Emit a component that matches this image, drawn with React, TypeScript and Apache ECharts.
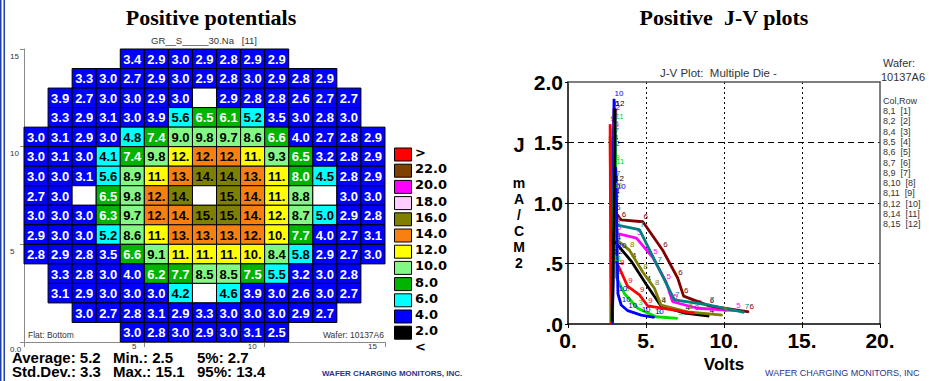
import React, { useEffect, useRef } from 'react';
import * as echarts from 'echarts';

// ---------- Wafer map data (rows listed top -> bottom; null = no die, -1 = untested die) ----------
const N = null;
const U = -1;
const rowY14 = [N, N, N, N, 3.4, 2.9, 3.0, 2.9, 2.8, 2.9, 2.9, N, N, N, N];
const rowY13 = [N, N, 3.3, 3.0, 2.7, 2.9, 3.0, 2.9, 2.8, 3.0, 2.9, 2.8, 2.9, N, N];
const rowY12 = [N, 3.9, 2.7, 3.0, 3.0, 2.9, 3.0, U, 2.9, 2.8, 2.8, 2.6, 2.7, 2.7, N];
const rowY11 = [N, 3.3, 2.9, 3.1, 3.0, 3.9, 5.6, 6.5, 6.1, 5.2, 3.5, 3.0, 2.8, 3.0, N];
const rowY10 = [3.0, 3.1, 2.9, 3.0, 4.8, 7.4, 9.0, 9.8, 9.7, 8.6, 6.6, 4.0, 2.7, 2.8, 2.9];
const rowY9 = [3.0, 3.1, 3.0, 4.1, 7.4, 9.8, 11.6, 12.2, 12.1, 11.2, 9.3, 6.5, 3.2, 2.8, 2.9];
const rowY8 = [3.0, 3.0, 3.1, 5.6, 8.9, 11.3, 13.2, 14.1, 14.2, 13.1, 11.2, 8.0, 4.5, 2.8, 2.9];
const rowY7 = [2.7, 3.0, U, 6.5, 9.8, 12.3, 14.2, U, 15.1, 13.8, 11.3, 8.8, U, 3.0, 3.0];
const rowY6 = [3.0, 3.0, 3.0, 6.3, 9.7, 12.2, 13.7, 15.0, 14.8, 13.6, 11.7, 8.7, 5.0, 2.9, 2.8];
const rowY5 = [2.9, 3.0, 3.0, 5.2, 8.6, 11.2, 13.1, 13.0, 12.9, 12.3, 10.3, 7.7, 4.0, 2.7, 3.1];
const rowY4 = [2.8, 2.9, 2.8, 3.5, 6.6, 9.1, 11.2, 11.0, 10.8, 10.3, 8.4, 5.8, 2.9, 2.7, 3.0];
const rowY3 = [N, 3.3, 2.8, 3.0, 4.0, 6.2, 7.7, 8.5, 8.5, 7.5, 5.5, 3.2, 3.0, 2.8, N];
const rowY2 = [N, 3.1, 2.9, 3.0, 3.0, 3.0, 4.2, U, 4.6, 3.9, 3.0, 2.6, 3.0, 2.7, N];
const rowY1 = [N, N, 3.0, 2.7, 2.8, 3.1, 2.9, 3.3, 3.0, 3.0, 3.0, 2.9, 2.7, N, N];
const rowY0 = [N, N, N, N, 3.0, 2.8, 3.0, 2.9, 3.0, 3.1, 2.5, N, N, N, N];
const waferRows = [rowY14, rowY13, rowY12, rowY11, rowY10, rowY9, rowY8, rowY7, rowY6, rowY5, rowY4, rowY3, rowY2, rowY1, rowY0];

// colour bins (low -> high), upper bounds and legend labels
const binUpper = [2, 4, 6, 8, 10, 12, 14, 16, 18, 20, 22, Infinity];
const binColors = ['#000000', '#0000ff', '#00ffff', '#00b400', '#84f884', '#ffff00', '#f88010', '#808000', '#ffccff', '#ff00ff', '#804000', '#ff0000'];
const binLabels = ['2.0', '4.0', '6.0', '8.0', '10.0', '12.0', '14.0', '16.0', '18.0', '20.0', '22.0', '>'];
const binWhiteText = [true, true, false, true, false, false, false, false, false, false, true, false];
const belowLabel = '<';

const statNames = ['Average:', 'Min.:', '5%:', 'Std.Dev.:', 'Max.:', '95%:'];
const statValues = ['5.2', '2.5', '2.7', '3.3', '15.1', '13.4'];

// ---------- J-V curves ([volts, J]) ----------
const curve1 = [[2.78, 0.03], [2.82, 0.4], [2.88, 0.95], [2.92, 1.35], [2.95, 1.7]];
const curve2 = [[2.85, 0.02], [2.9, 0.45], [2.95, 1.0], [3.0, 1.45], [3.02, 1.74]];
const curve3 = [[2.85, 0.0], [2.92, 1.61], [3.0, 1.33], [3.05, 0.8], [3.09, 0.39], [3.62, 0.25], [4.47, 0.13], [5.64, 0.06], [7.03, 0.047]];
const curve4 = [[2.8, 0.0], [2.9, 1.5], [3.0, 1.05], [3.07, 0.67], [4.05, 0.52], [5.0, 0.33], [5.96, 0.149], [7.5, 0.09], [9.05, 0.066]];
const curve5 = [[2.85, 0.0], [2.95, 1.6], [3.05, 1.1], [3.09, 0.75], [4.39, 0.71], [5.43, 0.55], [6.28, 0.35], [6.71, 0.184], [8.3, 0.13], [10.75, 0.11]];
const curve6 = [[2.85, 0.0], [2.95, 1.78], [3.05, 0.92], [3.41, 0.86], [4.8, 0.845], [6.07, 0.61], [7.03, 0.38], [7.41, 0.23], [9.05, 0.15], [11.6, 0.1]];
const curve7 = [[2.85, 0.0], [2.95, 1.55], [3.05, 1.2], [3.09, 0.82], [4.58, 0.78], [5.7, 0.49], [6.82, 0.2], [9.05, 0.157], [11.3, 0.097]];
const curve8 = [[2.8, 0.0], [2.7, 1.55], [2.85, 1.2], [2.98, 0.71], [3.94, 0.61], [4.79, 0.43], [5.54, 0.295], [5.96, 0.157], [7.67, 0.1], [9.9, 0.074]];
const curve9 = [[2.75, 0.0], [2.7, 1.65], [2.8, 1.1], [2.88, 0.57], [3.3, 0.46], [3.83, 0.31], [4.58, 0.24], [5.11, 0.149], [8.1, 0.088]];
const curve10 = [[2.85, 0.0], [2.95, 1.86], [3.1, 1.09], [3.15, 0.6], [3.2, 0.25], [3.41, 0.157], [3.83, 0.11], [4.69, 0.074], [5.54, 0.055]];
const curve11 = [[2.8, 0.02], [2.88, 0.5], [2.95, 1.1], [3.0, 1.67], [3.05, 1.3]];
const curve12 = [[2.82, 0.02], [2.9, 0.55], [2.98, 1.16], [3.02, 1.78]];
const jvCurves = [curve1, curve2, curve3, curve4, curve5, curve6, curve7, curve8, curve9, curve10, curve11, curve12];
const jvPalette = ['#ff0000', '#0000ff', '#00e000', '#000000', '#ff00ff', '#800000', '#008080', '#808000'];
const dieCols = [8, 8, 8, 8, 8, 8, 8, 8, 8, 8, 8, 8];
const dieRows = [1, 2, 4, 5, 6, 7, 9, 10, 11, 12, 14, 15];
const jvXTicks = [0, 5, 10, 15, 20];

const ARIAL = 'Arial, "Liberation Sans", sans-serif';
const SERIF = '"Liberation Serif", "Times New Roman", serif';

function binIndex(v: number) {
  for (let i = 0; i < binUpper.length; i++) if (v <= binUpper[i]) return i;
  return binUpper.length - 1;
}
function fmtCell(v: number) {
  return v >= 9.95 ? Math.round(v) + '.' : v.toFixed(1);
}

function txt(x: number, y: number, text: string, font: string, fill: string, align = 'left', vAlign = 'middle') {
  return {
    type: 'text', x, y, silent: true,
    style: { text, font, fill, align, textAlign: align, verticalAlign: vAlign, textVerticalAlign: vAlign },
  };
}

function buildOption() {
  const cells: any[] = [];
  waferRows.forEach((row, ri) => {
    const y = waferRows.length - 1 - ri;
    row.forEach((v, c) => {
      if (v !== null) cells.push([c, y, v]);
    });
  });

  const graphics: any[] = [];
  graphics.push({ type: 'rect', shape: { x: 0, y: 0, width: 1.5, height: 381 }, style: { fill: '#2040b0' }, silent: true });
  graphics.push({ type: 'rect', shape: { x: 3.5, y: 0, width: 1.5, height: 381 }, style: { fill: '#2040b0' }, silent: true });
  graphics.push(txt(211, 17, 'Positive potentials', `bold 22px ${SERIF}`, '#000', 'center'));
  graphics.push(txt(724, 17, 'Positive  J-V plots', `bold 22px ${SERIF}`, '#000', 'center'));
  graphics.push(txt(204, 40, 'GR__S_____30.Na   [11]', `9.5px ${ARIAL}`, '#333', 'center'));
  graphics.push(txt(28, 335, 'Flat: Bottom', `8.5px ${ARIAL}`, '#333', 'left'));
  graphics.push(txt(384, 335, 'Wafer: 10137A6', `8.5px ${ARIAL}`, '#333', 'right'));
  const nb = binColors.length;
  for (let k = 0; k < nb; k++) {
    const i = nb - 1 - k;
    const y0 = 148 + k * 16.2;
    graphics.push({ type: 'rect', shape: { x: 394.5, y: y0, width: 17, height: 13 }, style: { fill: binColors[i], stroke: '#000', lineWidth: 1 }, silent: true });
    graphics.push(txt(415, y0 + 4.5, binLabels[i], `bold 13px "DejaVu Sans", Verdana, sans-serif`, '#000', 'left'));
  }
  graphics.push(txt(415, 148 + nb * 16.2 + 4.5, belowLabel, `bold 13px "DejaVu Sans", Verdana, sans-serif`, '#000', 'left'));
  const sx = [12, 113, 197];
  statNames.forEach((name, i) => {
    const col = i % 3;
    const row = Math.floor(i / 3);
    graphics.push(txt(sx[col], 357 + row * 14, `${name} ${statValues[i]}`, `bold 15px ${ARIAL}`, '#000', 'left'));
  });
  graphics.push(txt(322, 373, 'WAFER CHARGING MONITORS, INC.', `bold 8px ${ARIAL}`, '#2a3490', 'left'));
  graphics.push(txt(765, 373, 'WAFER CHARGING MONITORS, INC', `9px ${ARIAL}`, '#2a3490', 'left'));
  graphics.push(txt(660, 73, 'J-V Plot:  Multiple Die -', `11.5px ${ARIAL}`, '#333', 'left'));
  graphics.push(txt(883, 63, 'Wafer:', `11px ${ARIAL}`, '#333', 'left'));
  graphics.push(txt(881, 77, '10137A6', `11px ${ARIAL}`, '#333', 'left'));
  graphics.push(txt(883, 101, 'Col,Row', `9px ${ARIAL}`, '#333', 'left'));
  dieRows.forEach((r, i) => {
    graphics.push(txt(883, 111 + i * 10.3, `${dieCols[i]},${r}  [${i + 1}]`, `9px ${ARIAL}`, '#333', 'left'));
  });
  graphics.push(txt(519, 145, 'J', `bold 20px ${ARIAL}`, '#000', 'center'));
  graphics.push({
    type: 'text', x: 519, y: 223, silent: true,
    style: { text: 'm\nA\n/\nC\nM\n2', font: `bold 14px ${ARIAL}`, lineHeight: 16, fill: '#000', align: 'center', textAlign: 'center', verticalAlign: 'middle', textVerticalAlign: 'middle' },
  });

  const lineSeries = jvCurves.map((curve, i) => {
    const color = jvPalette[i % jvPalette.length];
    return {
      type: 'line', name: `[${i + 1}]`, xAxisIndex: 1, yAxisIndex: 1,
      data: curve.map((pt) => ({ value: pt, label: { show: pt[1] >= 0.035 } })),
      symbol: 'circle', symbolSize: 1, showSymbol: true,
      lineStyle: { color, width: 2.8 }, itemStyle: { color },
      label: { show: true, formatter: String(i + 1), position: [1, -9], fontSize: 8, fontFamily: ARIAL, color },
      z: 3 + i,
    };
  });

  return {
    animation: false,
    backgroundColor: '#ffffff',
    textStyle: { fontFamily: ARIAL },
    grid: [
      { left: 24, top: 49, width: 361, height: 293 },
      { left: 568, top: 82, width: 312, height: 242 },
    ],
    xAxis: [
      {
        gridIndex: 0, type: 'value', min: 0, max: 15, interval: 5,
        axisLine: { show: true, onZero: false, lineStyle: { color: '#8a8a8a' } },
        axisTick: { show: true, length: 5, lineStyle: { color: '#8a8a8a' } },
        splitLine: { show: false },
        axisLabel: { fontSize: 8, color: '#333', margin: 0, align: 'right', padding: [0, 8, 0, 0], formatter: (v: number) => (v === 0 ? '' : String(v)) },
      },
      {
        gridIndex: 1, type: 'value', min: 0, max: 20, interval: 5,
        axisLine: { show: true, onZero: false, lineStyle: { color: '#000', width: 1.5 } },
        axisTick: { show: true, length: 4, lineStyle: { color: '#000' } },
        splitLine: { show: true, showMinLine: false, showMaxLine: false, lineStyle: { color: '#000', type: [2, 3], width: 1 } },
        axisLabel: { fontSize: 21, fontWeight: 'bold', color: '#000', margin: 6, formatter: (v: number) => (jvXTicks.includes(v) ? v + '.' : '') },
        name: 'Volts', nameLocation: 'middle', nameGap: 27,
        nameTextStyle: { fontSize: 17, fontWeight: 'bold', color: '#000' },
      },
      {
        gridIndex: 1, type: 'value', position: 'top', min: 0, max: 20, interval: 5,
        axisLine: { show: true, onZero: false, lineStyle: { color: '#555', width: 1.5 } },
        axisTick: { show: false }, axisLabel: { show: false }, splitLine: { show: false },
      },
    ],
    yAxis: [
      {
        gridIndex: 0, type: 'value', min: 0, max: 15, interval: 5,
        axisLine: { show: true, onZero: false, lineStyle: { color: '#8a8a8a' } },
        axisTick: { show: true, length: 4, lineStyle: { color: '#8a8a8a' } },
        splitLine: { show: false },
        axisLabel: { fontSize: 8, color: '#333', align: 'left', verticalAlign: 'top', margin: 14, padding: [3, 0, 0, 0], formatter: (v: number) => (v === 0 ? '0.0' : String(v)) },
      },
      {
        gridIndex: 1, type: 'value', min: 0, max: 2, interval: 0.5,
        axisLine: { show: true, onZero: false, lineStyle: { color: '#000', width: 1.5 } },
        axisTick: { show: true, length: 3, lineStyle: { color: '#000' } },
        splitLine: { show: true, showMinLine: false, showMaxLine: false, lineStyle: { color: '#000', type: [6, 4], width: 1 } },
        axisLabel: {
          fontSize: 21, fontWeight: 'bold', color: '#000', margin: 5,
          formatter: (v: number) => (v === 0 ? '.0' : v === 0.5 ? '.5' : v.toFixed(1)),
        },
      },
      {
        gridIndex: 1, type: 'value', position: 'right', min: 0, max: 2, interval: 0.5,
        axisLine: { show: true, onZero: false, lineStyle: { color: '#555', width: 1.5 } },
        axisTick: { show: false }, axisLabel: { show: false }, splitLine: { show: false },
      },
    ],
    series: [
      {
        type: 'custom', xAxisIndex: 0, yAxisIndex: 0, data: cells, silent: true, clip: false,
        renderItem: (params: any, api: any) => {
          const x = api.value(0);
          const y = api.value(1);
          const v = api.value(2);
          const p = api.coord([x, y + 1]);
          const s = api.size([1, 1]);
          const untested = v < 0;
          const bi = untested ? -1 : binIndex(v);
          const children: any[] = [
            { type: 'rect', shape: { x: p[0], y: p[1], width: s[0], height: s[1] }, style: { fill: untested ? '#ffffff' : binColors[bi], stroke: '#000', lineWidth: 1 } },
          ];
          if (!untested) {
            children.push({
              type: 'text', x: p[0] + s[0] / 2, y: p[1] + s[1] / 2 + 0.5,
              style: { text: fmtCell(v), font: `bold 13px ${ARIAL}`, fill: binWhiteText[bi] ? '#ffffff' : '#000000', align: 'center', textAlign: 'center', verticalAlign: 'middle', textVerticalAlign: 'middle' },
            });
          }
          return { type: 'group', children };
        },
      },
      ...lineSeries,
    ],
    graphic: graphics,
  };
}

export default function App() {
  const ref = useRef<HTMLDivElement>(null);
  useEffect(() => {
    const chart = echarts.init(ref.current as HTMLDivElement, null, { renderer: 'svg' });
    chart.setOption(buildOption() as any);
    return () => chart.dispose();
  }, []);
  return <div ref={ref} style={{ position: 'fixed', left: 0, top: 0, width: 929, height: 381, background: '#fff' }} />;
}
